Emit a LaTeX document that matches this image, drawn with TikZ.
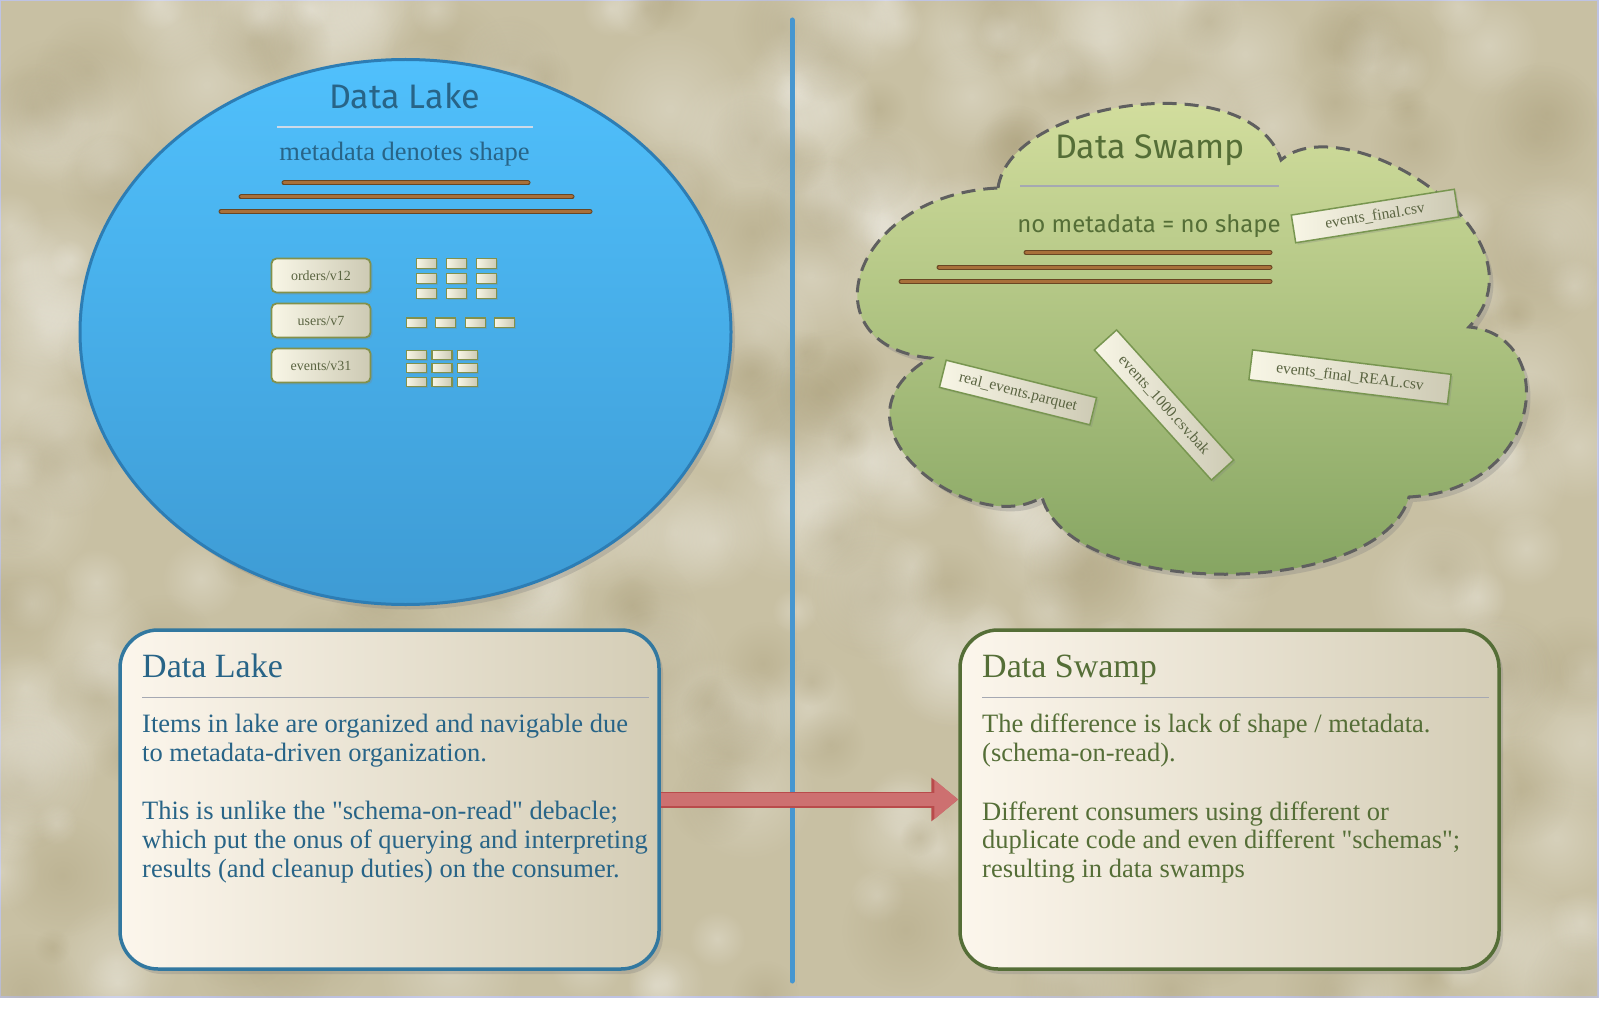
\documentclass[tikz,border=0pt]{standalone}
\usepackage{fontspec}
\setmainfont{Liberation Serif}[Ligatures=TeXOff]
\newfontfamily\handfont{Fira Sans}
\usetikzlibrary{calc}
\usetikzlibrary{shadows,arrows.meta,fadings}
\usetikzlibrary{shapes.geometric}

\definecolor{parchment}{RGB}{200,192,163}
\definecolor{parchdark}{RGB}{165,153,115}
\definecolor{edgeblue}{RGB}{190,195,228}
\definecolor{laketop}{RGB}{80,192,252}
\definecolor{lakebottom}{RGB}{62,155,212}
\definecolor{lakeedge}{RGB}{45,125,180}
\definecolor{laketext}{RGB}{40,100,135}
\definecolor{swamptop}{RGB}{216,226,162}
\definecolor{swampbottom}{RGB}{130,162,95}
\definecolor{swampedge}{RGB}{95,95,95}
\definecolor{swamptext}{RGB}{85,110,55}
\definecolor{barbrown}{RGB}{168,112,58}
\definecolor{bardark}{RGB}{105,70,35}
\definecolor{cellleft}{RGB}{248,246,230}
\definecolor{cellright}{RGB}{205,202,180}
\definecolor{celledge}{RGB}{130,145,75}
\definecolor{celltext}{RGB}{90,100,65}
\definecolor{boxleft}{RGB}{252,246,236}
\definecolor{boxright}{RGB}{212,205,182}
\definecolor{boxblue}{RGB}{50,120,160}
\definecolor{dividerblue}{RGB}{70,150,208}
\definecolor{arrowred}{RGB}{205,112,112}
\definecolor{arrowdark}{RGB}{185,75,75}
\definecolor{rulegray}{RGB}{165,168,178}
\definecolor{rulelight}{RGB}{205,218,232}

\tikzfading[name=fuzzyspot, inner color=transparent!0, outer color=transparent!100]

\tikzset{
    softshadow/.style={drop shadow={opacity=0.3, shadow xshift=4pt, shadow yshift=-5pt}},
    bar/.style={draw=bardark, double=barbrown, double distance=3pt, line width=1pt, line cap=round},
    cell/.style={draw=celledge, line width=1.2pt, left color=cellleft, right color=cellright,
        minimum width=20pt, minimum height=9.5pt, inner sep=0pt,
        drop shadow={opacity=0.25, shadow xshift=1.5pt, shadow yshift=-1.5pt}},
    shelf/.style={draw=celledge, line width=1.8pt, rounded corners=5pt, left color=cellleft, right color=cellright,
        minimum width=99pt, minimum height=34pt, text=celltext, font=\fontsize{14}{16}\selectfont,
        drop shadow={opacity=0.25, shadow xshift=2pt, shadow yshift=-2pt}},
    tag/.style={draw={rgb,255:red,120;green,150;blue,80}, line width=1.5pt, left color=cellleft, right color=cellright,
        minimum height=28pt, text=celltext, font=\fontsize{15.5}{17}\selectfont,
        drop shadow={opacity=0.25, shadow xshift=2pt, shadow yshift=-2pt}},
    infobox/.style={line width=3.5pt, rounded corners=38pt, left color=boxleft, right color=boxright,
        minimum width=539pt, minimum height=339pt, softshadow},
    boxtitle/.style={anchor=base west, inner sep=0pt, font=\fontsize{34}{40}\selectfont},
    boxbody/.style={anchor=north west, inner sep=0pt, align=left, font=\fontsize{26.5}{28.7}\selectfont}
}

\begin{document}
\begin{tikzpicture}[x=1pt,y=-1pt]
\useasboundingbox (0,0) rectangle (1611,1011);

% Parchment
\fill[white] (0,0) rectangle (1611,1011);
\fill[parchment, draw=edgeblue, line width=1.5pt] (0,0) rectangle (1598,997);
\begin{scope}
\clip (0,0) rectangle (1598,997);
\pgfmathsetseed{11}
\foreach \k in {1,...,260}{
    \pgfmathsetmacro{\bx}{rnd*1598}
    \pgfmathsetmacro{\by}{rnd*997}
    \pgfmathsetmacro{\br}{20+rnd*60}
    \fill[white, opacity=0.25, path fading=fuzzyspot] (\bx,\by) circle[radius=\br];
}
\foreach \k in {1,...,170}{
    \pgfmathsetmacro{\bx}{rnd*1598}
    \pgfmathsetmacro{\by}{rnd*997}
    \pgfmathsetmacro{\br}{18+rnd*55}
    \fill[parchdark, opacity=0.3, path fading=fuzzyspot] (\bx,\by) circle[radius=\br];
}
\end{scope}

% Divider
\draw[dividerblue, line width=5pt, line cap=round, softshadow] (792,20) -- (792,981);

% Lake
\node[ellipse, draw=lakeedge, line width=3pt, top color=laketop, bottom color=lakebottom,
    minimum width=651pt, minimum height=545pt, softshadow] (lake) at (405.5,332) {};
\node[text=laketext, font=\handfont\fontsize{34}{40}\selectfont] (laketitle) at (404.5,96) {Data Lake};
\draw[rulelight, line width=1.2pt] (277,127) -- (533,127);
\node[text=laketext, font=\fontsize{26.5}{30}\selectfont] (lakemeta) at (404.5,154) {metadata denotes shape};
\draw[bar] (284,183) -- (528,183);
\draw[bar] (241,197) -- (572,197);
\draw[bar] (221,211.5) -- (590,211.5);

\node[shelf] (orders) at (321,275.5) {orders/v12};
\node[shelf] (users) at (321,320.5) {users/v7};
\node[shelf] (events) at (321,365.5) {events/v31};

\foreach \i in {0,1,2}
    \foreach \j in {0,1,2}
        \node[cell] (ordercell-\i-\j) at (426.5+30*\i,263.5+15*\j) {};
\foreach \i in {0,1,2,3}
    \node[cell] (usercell-\i) at (416.5+29.3*\i,322.7) {};
\foreach \i in {0,1,2}
    \foreach \j in {0,1,2}
        \node[cell, minimum height=9pt] (eventcell-\i-\j) at (416.5+25.5*\i,355+13.3*\j) {};

% Swamp
\draw[swampedge, line width=3pt, dash pattern=on 14pt off 8pt, top color=swamptop, bottom color=swampbottom, softshadow]
    (998,188) .. controls (1010,100) and (1250,65) .. (1281,160)
    .. controls (1345,105) and (1555,235) .. (1469,327)
    .. controls (1560,335) and (1545,490) .. (1409,497)
    .. controls (1380,600) and (1070,600) .. (1042,497)
    .. controls (975,540) and (815,425) .. (930,358)
    .. controls (805,345) and (850,195) .. (998,188) -- cycle;
\node[text=swamptext, font=\handfont\fontsize{34}{40}\selectfont] (swamptitle) at (1150,150) {Data Swamp};
\draw[rulegray, line width=1.2pt] (1020,186) -- (1279,186);
\node[text=swamptext, font=\handfont\fontsize{24}{28}\selectfont] (swampmeta) at (1149,226) {no metadata = no shape};
\draw[bar] (1026,252.5) -- (1270,252.5);
\draw[bar] (939,267) -- (1270,267);
\draw[bar] (901,281.5) -- (1270,281.5);

\node[tag, minimum width=165pt, rotate=9] (finalcsv) at (1375,216) {events\_final.csv};
\node[tag, minimum width=200pt, minimum height=30pt, rotate=-7] (realcsv) at (1350,377) {events\_final\_REAL.csv};
\node[tag, minimum width=155pt, rotate=-14] (parquet) at (1018,392.5) {real\_events.parquet};
\node[tag, minimum width=175pt, minimum height=30pt, rotate=-48] (bak) at (1164,405) {events\_1000.csv.bak};

% Explanation boxes
\node[infobox, draw=boxblue] (lakebox) at (389.5,799.5) {};
\node[boxtitle, text=laketext] (lakeboxtitle) at (142,677) {Data Lake};
\draw[rulegray, line width=1.2pt] (142,697.5) -- (649,697.5);
\node[boxbody, text=laketext] (lakeboxtext) at (142,714) {Items in lake are organized and navigable due\\
to metadata-driven organization.\\[30pt]
This is unlike the "schema-on-read" debacle;\\
which put the onus of querying and interpreting\\
results (and cleanup duties) on the consumer.};

\node[infobox, draw=swamptext] (swampbox) at (1229.5,799.5) {};
\node[boxtitle, text=swamptext] (swampboxtitle) at (982,677) {Data Swamp};
\draw[rulegray, line width=1.2pt] (982,697.5) -- (1489,697.5);
\node[boxbody, text=swamptext] (swampboxtext) at (982,714) {The difference is lack of shape / metadata.\\
(schema-on-read).\\[30pt]
Different consumers using different or\\
duplicate code and even different "schemas";\\
resulting in data swamps};

% Arrow
\draw[draw=arrowred, line width=13pt, -{Triangle[length=24pt,width=38pt]},
    preaction={draw=arrowdark, line width=16pt, -{Triangle[length=27pt,width=42pt]}}]
    (lakebox) -- (swampbox);

\end{tikzpicture}
\end{document}
